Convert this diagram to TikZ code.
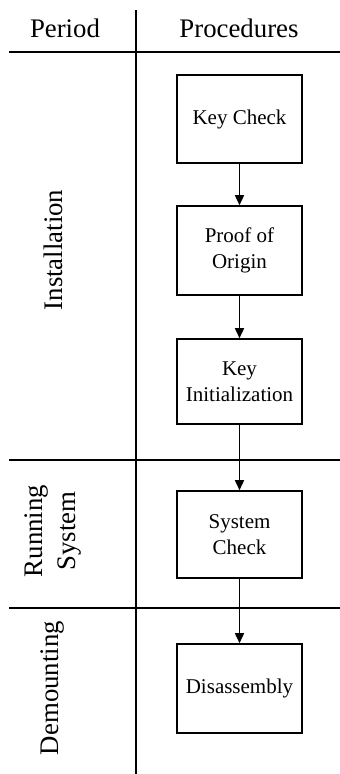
\documentclass[tikz,border=0pt]{standalone}
\usepackage{fontspec}
\setmainfont{Liberation Serif}
\usetikzlibrary{arrows.meta}
\begin{document}
\begin{tikzpicture}[x=1pt,y=-1pt,
  rule/.style={line width=1.6pt},
  procbox/.style={draw,line width=1.6pt,minimum width=125pt,inner sep=2pt,align=center,font=\fontsize{21}{26}\selectfont},
  headtext/.style={font=\fontsize{26.8}{33}\selectfont},
  flow/.style={line width=1.6pt,-{Triangle[width=9pt,length=10pt]}}]
\useasboundingbox (0,0) rectangle (340,774);
% grid lines
\coordinate (vt) at (136,10);
\coordinate (vb) at (136,774);
\coordinate (h1l) at (9,52);  \coordinate (h1r) at (340,52);
\coordinate (h2l) at (9,460); \coordinate (h2r) at (340,460);
\coordinate (h3l) at (9,608); \coordinate (h3r) at (340,608);
\draw[rule] (vt) -- (vb);
\draw[rule] (h1l) -- (h1r);
\draw[rule] (h2l) -- (h2r);
\draw[rule] (h3l) -- (h3r);
% headers
\node[headtext] (hperiod) at (65,28) {Period};
\node[headtext] (hproc) at (239,28) {Procedures};
% period labels
\node[headtext,rotate=90] (inst) at (53,250) {Installation};
\node[headtext,rotate=90,align=center] (run) at (53,531) {Running\\System};
\node[headtext,rotate=90] (demo) at (53,688) {Demounting};
% boxes
\node[procbox,minimum height=88pt] (kc) at (239.5,119) {Key Check};
\node[procbox,minimum height=89pt] (po) at (239.5,250.5) {Proof of\\Origin};
\node[procbox,minimum height=85pt] (ki) at (239.5,381.5) {Key\\Initialization};
\node[procbox,minimum height=87pt] (sc) at (239.5,534.5) {System\\Check};
\node[procbox,minimum height=89pt] (da) at (239.5,688.5) {Disassembly};
% arrows
\draw[flow] (kc) -- (po);
\draw[flow] (po) -- (ki);
\draw[flow] (ki) -- (sc);
\draw[flow] (sc) -- (da);
\end{tikzpicture}
\end{document}
